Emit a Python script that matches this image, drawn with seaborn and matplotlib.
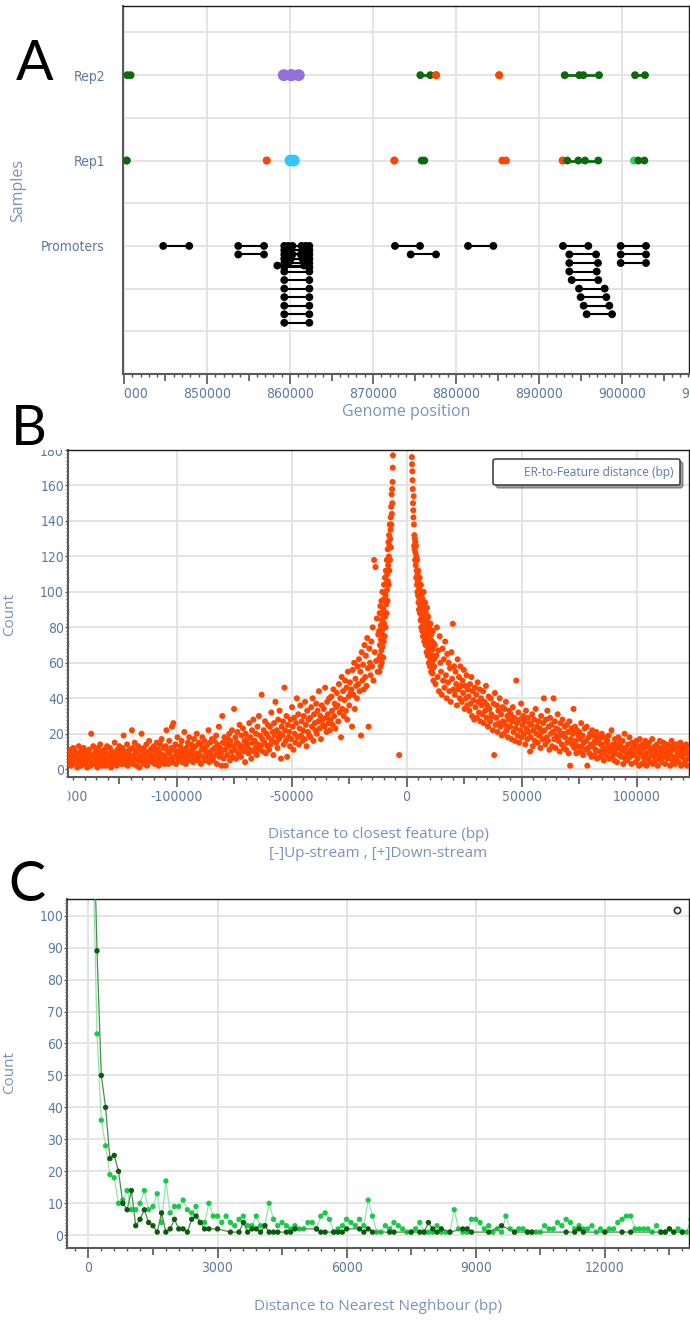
import numpy as np
import pandas as pd
import matplotlib
matplotlib.use("Agg")
import matplotlib.pyplot as plt
import seaborn as sns
from matplotlib import font_manager
from matplotlib.lines import Line2D
from matplotlib.ticker import MultipleLocator, FixedLocator, FuncFormatter
from matplotlib.transforms import Bbox, TransformedBbox

sns.set_theme(style="white")
TICK_FONT = ["Liberation Sans Narrow", "DejaVu Sans"]
TEXT_FONT = ["Open Sans", "DejaVu Sans"]
plt.rcParams["font.family"] = TICK_FONT
plt.rcParams["font.stretch"] = "condensed"

# use a narrow face for tick labels when one is installed
narrow_files = [f.fname for f in font_manager.fontManager.ttflist
                if ("Narrow" in f.fname or "Condensed" in f.fname)
                and not any(w in f.fname for w in ("Bold", "Italic", "Oblique", "Light"))]
narrow_files.sort(key=lambda p: (0 if "LiberationSansNarrow" in p else 1, p))
TICK_PROPS = dict(fname=narrow_files[0]) if narrow_files else dict(family=TICK_FONT)
TICK_SIZE = 10 if narrow_files else 9

TICK_COLOR = "#5b7aa3"
LABEL_COLOR = "#7893b8"
GRID_COLOR = "#e2e2e2"

# ---------------- panel A: genome browser tracks ----------------
track_names = ["Promoters", "Rep1", "Rep2"]
track_y = [0, 1, 2]

feature_colors = {"green": "#0b6a0b", "lime": "#33d166", "orange": "#ff4500",
                  "purple": "#9370db", "cyan": "#33c6ff", "black": "#000000"}

rep2_start = [840400, 859250, 860150, 875700, 877600, 885200, 893100, 894850, 901570]
rep2_end = [840800, 860150, 861060, 876900, 877600, 885200, 895340, 897230, 902770]
rep2_kind = ["green", "purple", "purple", "green", "orange", "orange", "green", "green", "green"]

rep1_start = [840330, 857200, 860060, 872570, 875870, 885580, 892850, 893410, 894730, 901450, 901970]
rep1_end = [840330, 857200, 860460, 872570, 876180, 886020, 892850, 895540, 897140, 901450, 902690]
rep1_kind = ["green", "orange", "cyan", "orange", "green", "orange", "orange", "green", "green", "lime", "green"]

prom_start = [844730, 853770, 853770,
              859310, 859800, 860300, 859310, 859600, 860100, 859310, 859800, 860300,
              859310, 859600, 860100, 859310, 859800, 858470, 859310,
              859310, 859310, 859310, 859310, 859310, 859310, 859310,
              872650, 874540, 881450,
              892890, 893650, 893650, 893650, 893940, 894820, 895020, 895380, 895740,
              899840, 899840, 899840]
prom_end = [847860, 856870, 856870,
            862330, 861900, 861400, 862330, 862100, 861600, 862330, 861800, 861300,
            862330, 862000, 861500, 862330, 861900, 861700, 862330,
            862330, 862330, 862330, 862330, 862330, 862330, 862330,
            875660, 877590, 884500,
            895940, 896870, 897100, 896950, 897140, 897910, 898110, 898470, 898800,
            902890, 902890, 902890]
prom_row = [0.0, 0.0, -0.1,
            0.0, 0.0, 0.0, -0.05, -0.05, -0.05, -0.1, -0.1, -0.1,
            -0.15, -0.15, -0.15, -0.2, -0.2, -0.23, -0.25,
            -0.3, -0.4, -0.5, -0.6, -0.7, -0.8, -0.9,
            0.0, -0.1, 0.0,
            0.0, -0.1, -0.2, -0.3, -0.4, -0.5, -0.6, -0.7, -0.8,
            0.0, -0.1, -0.2]

# ---------------- panel B: ER-to-feature distance histogram ----------------
b_left_tail = [  # from -147000 bp, every 300 bp
    6, 3, 9, 11, 2, 7, 5, 12, 4, 8,
    10, 3, 6, 1, 9, 13, 5, 7, 2, 11,
    4, 8, 12, 6, 3, 10, 7, 1, 9, 5,
    11, 6, 2, 20, 8, 4, 13, 7, 3, 10,
    5, 9, 1, 12, 7, 3, 14, 6, 10, 2,
    8, 4, 11, 6, 2, 9, 13, 5, 7, 3,
    12, 7, 1, 10, 5, 8, 3, 15, 6, 9,
    2, 11, 7, 4, 13, 6, 9, 3, 12, 5,
    19, 8, 3, 10, 6, 14, 2, 9, 5, 11,
    7, 4, 22, 12, 3, 8, 15, 6, 10, 2,
    9, 13, 5, 1, 11, 7, 20, 4, 8, 12,
    3, 10, 6, 14, 2, 9, 5, 16, 7, 11,
    8, 4, 12, 6, 13, 3, 10, 7, 15, 5,
    11, 2, 9, 14, 6, 17, 4, 8, 12, 3,
    7, 13, 22, 5, 10, 3, 16, 9, 6, 12,
    24, 4, 26, 11, 7, 14, 3, 9, 18, 6,
    10, 5, 13, 8, 16, 4, 11, 7, 21, 9,
    3, 12, 6, 15, 9, 18, 5, 10, 14, 7,
    11, 4, 17, 8, 13, 6, 20, 9, 5, 15,
    8, 14, 3, 11, 18, 7, 12, 16, 5, 10,
    13, 6, 9, 22, 4, 15, 10, 7, 17, 11,
    5, 16, 12, 8, 19, 3, 14, 10, 24, 7,
    12, 9, 2, 30, 15, 6, 18, 11, 2, 14,
    8, 17, 13, 20, 5, 16, 10, 22, 7, 13,
    34, 11, 18, 6, 15, 21, 9, 14, 25, 12,
    7, 19, 13, 23, 10, 16, 4, 20, 12, 17,
    14, 9, 26, 11, 18, 6, 22, 15, 28, 10,
    16, 12, 20, 8, 24, 14, 30, 11, 19, 13,
    42, 17, 10, 22, 15, 27, 9, 20, 13, 25,
    18, 11, 24, 14, 32, 16, 21, 8, 26, 19,
    38, 15, 22, 12, 28, 17, 33, 20, 6, 24,
    19, 27, 14, 46, 22, 16, 30, 7, 25, 18,
    21, 13, 28, 17, 35, 24, 11, 29, 20, 15,
    26, 40, 18, 31, 14, 23, 36, 19, 27, 16,
    22, 30, 17, 38, 25, 13, 33, 21, 28, 19,
    29, 18, 35, 24, 40, 16, 31, 26, 22, 37,
    20, 33, 27, 44, 23, 30, 17, 36, 28, 25,
    34, 24, 46, 29, 21, 38, 31, 26, 40, 22,
    28, 41, 33, 25, 45, 30, 37, 23, 35, 43,
    36, 27, 48, 32, 40, 18, 52, 34, 44, 30,
    39, 50, 33, 46, 28, 55, 41, 36, 49, 43,
    45, 24, 56, 42, 60, 34, 51, 47, 40, 58,
    48, 62, 44, 55, 19, 66, 50, 59, 45, 70,
    52, 64, 47, 74, 57, 24, 68, 60, 53, 72,
    58, 80, 50, 118, 66, 114, 61, 85, 55, 76,
]
b_left_core = [  # from -12000 bp, every 100 bp
    62, 78, 55, 88, 70, 64, 92, 58, 81, 73,
    67, 95, 60, 84, 76, 100, 69, 87, 79, 63,
    90, 72, 104, 82, 96, 75, 108, 86, 98, 80,
    112, 93, 105, 88, 118, 101, 110, 95, 124, 106,
    115, 128, 104, 120, 132, 112, 126, 138, 118, 130,
    135, 142, 125, 148, 138, 155, 144, 158, 150, 162,
    170, 177, 186,
]
b_right_core = [  # from +2000 bp, every 100 bp
    195, 188, 182, 176, 172, 168, 163, 158, 150, 146,
    142, 154, 138, 126, 132, 124, 130, 118, 128, 122,
    115, 126, 108, 120, 112, 104, 118, 100, 110, 106,
    98, 112, 94, 105, 90, 102, 96, 108, 88, 100,
    92, 84, 104, 95, 80, 98, 86, 91, 78, 96,
    88, 75, 93, 82, 100, 79, 87, 72, 90, 84,
    76, 94, 81, 70, 88, 74, 85, 66, 79, 91,
    72, 83, 64, 78, 86, 68, 75, 60, 80, 70,
    65, 77, 58, 73, 82, 62, 70, 55, 76, 67,
    60, 72, 54, 68, 78, 57, 64, 50, 71, 62,
]
b_right_tail = [  # from +12000 bp, every 300 bp
    58, 70, 48, 64, 80, 52, 67, 44, 75, 60,
    55, 42, 68, 50, 62, 46, 72, 53, 40, 65,
    49, 60, 44, 57, 38, 66, 51, 82, 45, 58,
    42, 55, 48, 36, 62, 45, 52, 40, 58, 47,
    38, 50, 43, 56, 34, 47, 40, 53, 36, 45,
    41, 33, 48, 37, 52, 30, 44, 39, 28, 46,
    35, 42, 29, 49, 38, 32, 45, 27, 40, 36,
    31, 44, 26, 38, 33, 47, 29, 36, 24, 41,
    34, 27, 40, 31, 30, 22, 37, 8, 43, 25,
    29, 36, 21, 33, 26, 40, 24, 31, 19, 35,
    27, 20, 34, 25, 38, 22, 30, 18, 28, 33,
    24, 31, 17, 27, 35, 21, 29, 16, 23, 50,
    26, 19, 32, 15, 28, 22, 37, 18, 25, 30,
    20, 27, 14, 33, 23, 17, 29, 21, 26, 10,
    18, 25, 31, 13, 22, 28, 16, 34, 20, 24,
    15, 27, 19, 23, 12, 30, 21, 17, 26, 40,
    22, 14, 28, 18, 33, 16, 24, 11, 29, 20,
    25, 13, 21, 40, 17, 27, 12, 23, 19, 31,
    16, 22, 10, 26, 19, 14, 28, 20, 12, 24,
    18, 11, 25, 15, 21, 9, 27, 2, 17, 23,
    14, 20, 34, 12, 24, 16, 9, 22, 13, 19,
    21, 10, 17, 26, 13, 19, 8, 15, 23, 11,
    16, 24, 2, 12, 18, 9, 20, 14, 7, 22,
    13, 19, 8, 16, 11, 21, 6, 15, 18, 10,
    17, 7, 14, 20, 9, 12, 5, 18, 11, 15,
    8, 16, 12, 19, 6, 13, 10, 22, 7, 14,
    11, 5, 17, 9, 14, 4, 12, 18, 8, 15,
    13, 7, 10, 16, 3, 12, 20, 6, 11, 9,
    5, 14, 9, 18, 7, 11, 3, 15, 10, 13,
    8, 12, 4, 16, 10, 6, 13, 2, 17, 9,
    11, 3, 14, 7, 12, 5, 16, 9, 2, 13,
    6, 15, 10, 4, 12, 8, 17, 3, 11, 7,
    13, 5, 9, 14, 2, 11, 6, 16, 8, 12,
    4, 10, 15, 7, 12, 3, 9, 14, 6, 11,
    8, 13, 2, 10, 16, 5, 12, 7, 14, 3,
    11, 6, 14, 9, 4, 12, 8, 15, 2, 10,
    7, 13, 3, 10, 5, 14, 9, 2, 12, 6,
    8,
]
b_lone_x = [-3200]
b_lone_y = [8]

# ---------------- panel C: nearest-neighbour distances ----------------
c_light_x = np.arange(100, 14100, 100)
c_light_y = [123, 63, 36, 28, 19, 18, 10, 11, 14, 8,
             8, 10, 14, 8, 9, 13, 4, 17, 7, 9,
             9, 11, 8, 7, 9, 4, 4, 10, 6, 6,
             4, 6, 4, 3, 5, 6, 3, 3, 6, 3,
             3, 10, 5, 3, 4, 3, 2, 3, 2, 2,
             4, 4, 2, 6, 7, 5, 1, 2, 3, 5,
             4, 3, 5, 3, 11, 6, 1, 1, 3, 2,
             4, 3, 2, 1, 1, 2, 4, 1, 1, 1,
             3, 1, 1, 1, 8, 2, 1, 1, 5, 5,
             4, 2, 3, 1, 2, 1, 6, 2, 1, 2,
             2, 1, 1, 1, 1, 3, 2, 2, 4, 3,
             5, 4, 2, 3, 2, 2, 3, 1, 2, 1,
             2, 2, 4, 5, 6, 6, 2, 2, 2, 2,
             1, 3, 1, 1, 2, 1, 2, 1, 1, 5]
c_dark_x = [100, 200, 300, 400, 500, 600, 700, 800, 900, 1000,
            1100, 1200, 1300, 1400, 1500, 1600, 1700, 1800, 1900, 2000,
            2100, 2200, 2300, 2400, 2500, 2600, 2700, 2800,
            3000, 3300, 3500, 3600, 3700, 3800, 3900, 4000, 4100, 4200, 4300, 4400,
            4600, 4700, 4800,
            5300, 5400, 5500, 5700, 5800, 5900, 6000,
            6300, 6400, 6500, 6600,
            7000, 7100, 7500, 7700, 7800, 7900, 8000, 8100, 8200, 8400,
            8700, 8800, 8900,
            9300, 9600, 9900,
            10200, 10300,
            11100, 11300, 11400, 11500,
            12000, 12400, 12600,
            13300, 13400, 13500, 13600, 13800]
c_dark_y = [143, 89, 50, 40, 24, 25, 20, 10, 8, 14,
            3, 5, 8, 4, 3, 1, 7, 1, 2, 5,
            2, 2, 1, 5, 6, 4, 2, 2,
            2, 1, 1, 4, 1, 2, 2, 1, 3, 1, 1, 1,
            1, 1, 2,
            2, 1, 1, 1, 1, 1, 2,
            2, 1, 2, 1,
            1, 1, 1, 1, 1, 4, 2, 1, 2, 1,
            2, 2, 1,
            1, 3, 1,
            1, 1,
            1, 1, 2, 1,
            1, 1, 1,
            1, 1, 2, 1, 1]


def every(step):
    return FuncFormatter(lambda v, pos: f"{v:.0f}" if abs(v % step) < 1e-6 else "")


def style_axes(ax):
    ax.set_axisbelow(True)
    for side in ["left", "bottom"]:
        ax.spines[side].set_color("#5a5a5a")
        ax.spines[side].set_linewidth(1.5)
    for side in ["top", "right"]:
        ax.spines[side].set_color("#1a1a1a")
        ax.spines[side].set_linewidth(1.0)
    ax.tick_params(axis="both", which="both", direction="out", colors="#555555",
                   labelcolor=TICK_COLOR, labelsize=TICK_SIZE, bottom=True, left=True,
                   top=False, right=False)
    ax.tick_params(axis="x", which="major", length=5, width=1.2, pad=4.5)
    ax.tick_params(axis="x", which="minor", length=2.5, width=1.0)


def finish_axes(ax, label_step, long_len):
    # labelled ticks get a longer mark and a vertical grid line
    ax.xaxis.get_majorticklabels()
    for tick in ax.xaxis.get_major_ticks():
        loc = tick.get_loc()
        if abs(loc % label_step) < 1e-6:
            tick.tick1line.set_markersize(long_len)
            ax.axvline(loc, color=GRID_COLOR, lw=1.3, zorder=0)
        tick.label1.set_fontproperties(font_manager.FontProperties(size=TICK_SIZE, **TICK_PROPS))
        tick.label1.set_clip_box(TransformedBbox(Bbox([[0, -1], [10, 1]]), ax.transAxes))
        tick.label1.set_clip_on(True)
    ax.yaxis.get_majorticklabels()
    for tick in ax.yaxis.get_major_ticks():
        tick.label1.set_fontproperties(font_manager.FontProperties(size=TICK_SIZE, **TICK_PROPS))
        tick.label1.set_clip_box(TransformedBbox(Bbox([[-1, -1], [1, 1]]), ax.transAxes))
        tick.label1.set_clip_on(True)


def edge_label(ax, value, pad_pts):
    # label of a tick that sits just past the plot edge, cut off like the others
    trans, va, ha = ax.get_xaxis_text1_transform(pad_pts)
    txt = ax.xaxis.get_major_formatter()(value)
    t = ax.text(value, 0, txt, transform=trans, va=va, ha=ha, color=TICK_COLOR,
                fontproperties=font_manager.FontProperties(size=TICK_SIZE, **TICK_PROPS))
    t.set_clip_path(None)
    t.set_clip_box(TransformedBbox(Bbox([[0, -1], [10, 1]]), ax.transAxes))
    t.set_clip_on(True)


fig = plt.figure(figsize=(6.9, 13.24), dpi=100)
fig.patch.set_facecolor("white")
ax_a = fig.add_axes([123 / 690, 1 - 374 / 1324, 566 / 690, 368 / 1324])
ax_b = fig.add_axes([68.2 / 690, 1 - 776.7 / 1324, 620.6 / 690, 326.7 / 1324])
ax_c = fig.add_axes([67.3 / 690, 1 - 1248.3 / 1324, 621.5 / 690, 349.3 / 1324])


# ---- A ----
def draw_track(ax, starts, ends, ys, kinds, lw, size, big=()):
    for s, e, y, k in zip(starts, ends, ys, kinds):
        if e > s:
            ax.plot([s, e], [y, y], color=feature_colors[k], lw=lw,
                    solid_capstyle="butt", zorder=2)
    rows = []
    for s, e, y, k in zip(starts, ends, ys, kinds):
        rows.append((s, y, k))
        rows.append((e, y, k))
    df = pd.DataFrame(rows, columns=["pos", "y", "kind"])
    small = df[~df["kind"].isin(big)]
    large = df[df["kind"].isin(big)]
    if len(small):
        sns.scatterplot(data=small, x="pos", y="y", hue="kind", palette=feature_colors,
                        s=size, linewidth=0, legend=False, ax=ax, zorder=3)
    if len(large):
        sns.scatterplot(data=large, x="pos", y="y", hue="kind", palette=feature_colors,
                        s=size * 2.3, linewidth=0, legend=False, ax=ax, zorder=3)


draw_track(ax_a, rep2_start, rep2_end, [track_y[2]] * len(rep2_start), rep2_kind,
           2.0, 32, big=("purple", "cyan"))
draw_track(ax_a, rep1_start, rep1_end, [track_y[1]] * len(rep1_start), rep1_kind,
           2.0, 32, big=("purple", "cyan"))
draw_track(ax_a, prom_start, prom_end, [track_y[0] + r for r in prom_row],
           ["black"] * len(prom_start), 1.5, 32)

style_axes(ax_a)
ax_a.set_xlim(839880, 908070)
ax_a.set_ylim(-1.5, 2.81)
ax_a.xaxis.set_major_locator(MultipleLocator(5000))
ax_a.xaxis.set_minor_locator(MultipleLocator(1000))
ax_a.xaxis.set_major_formatter(every(10000))
ax_a.set_yticks(track_y, labels=track_names)
ax_a.yaxis.set_minor_locator(FixedLocator([-1.0, -0.5, 0.5, 1.5, 2.5]))
ax_a.tick_params(axis="y", which="both", length=0, pad=13)
ax_a.grid(axis="y", which="both", color=GRID_COLOR, lw=1.3)
ax_a.set_xlabel("Genome position", fontsize=11.5, color=LABEL_COLOR,
                fontfamily=TEXT_FONT, fontstretch="normal")
ax_a.set_ylabel("Samples", fontsize=11.5, color=LABEL_COLOR,
                fontfamily=TEXT_FONT, fontstretch="normal")
ax_a.xaxis.set_label_coords(0.5, -0.082)
ax_a.yaxis.set_label_coords(-0.171, 0.5)
finish_axes(ax_a, 10000, 7.5)
edge_label(ax_a, 910000, 9.5)
ax_a.set_xlim(839880, 908070)

# ---- B ----
b_x = np.concatenate([
    np.arange(-147000, -147000 + 300 * len(b_left_tail), 300),
    np.arange(-12000, -12000 + 100 * len(b_left_core), 100),
    b_lone_x,
    np.arange(2000, 2000 + 100 * len(b_right_core), 100),
    np.arange(12000, 12000 + 300 * len(b_right_tail), 300),
])
b_y = b_left_tail + b_left_core + b_lone_y + b_right_core + b_right_tail
df_b = pd.DataFrame({"distance": b_x, "count": b_y})
sns.scatterplot(data=df_b, x="distance", y="count", color="#ff4500", s=19,
                linewidth=0, edgecolor="none", ax=ax_b, zorder=3)

style_axes(ax_b)
ax_b.set_xlim(-147100, 122700)
ax_b.set_ylim(-4.2, 180)
ax_b.xaxis.set_major_locator(MultipleLocator(25000))
ax_b.xaxis.set_minor_locator(MultipleLocator(5000))
ax_b.xaxis.set_major_formatter(every(50000))
ax_b.yaxis.set_major_locator(MultipleLocator(20))
ax_b.yaxis.set_minor_locator(MultipleLocator(2))
ax_b.tick_params(axis="y", which="major", length=2.2, width=1.0, pad=0.8)
ax_b.tick_params(axis="y", which="minor", length=1.4, width=0.8)
ax_b.grid(axis="y", which="major", color=GRID_COLOR, lw=1.3)
ax_b.set_xlabel("Distance to closest feature (bp)\n[-]Up-stream , [+]Down-stream",
                fontsize=11, color=LABEL_COLOR, fontfamily=TEXT_FONT,
                fontstretch="normal", linespacing=1.3)
ax_b.set_ylabel("Count", fontsize=11, color=LABEL_COLOR, fontfamily=TEXT_FONT,
                fontstretch="normal")
ax_b.xaxis.set_label_coords(0.5, -0.155)
ax_b.yaxis.set_label_coords(-0.082, 0.498)
leg = ax_b.legend([Line2D([], [], ls="none")], ["ER-to-Feature distance (bp)"],
                  loc="upper right", bbox_to_anchor=(0.9858, 0.9725), borderaxespad=0,
                  frameon=True, fancybox=True, shadow=True, handlelength=1.6,
                  handletextpad=0.4, borderpad=0.55,
                  prop={"family": TEXT_FONT, "size": 8.6, "stretch": "normal"},
                  labelcolor=TICK_COLOR)
leg.get_frame().set_edgecolor("#444444")
leg.get_frame().set_linewidth(1.2)
finish_axes(ax_b, 50000, 7.5)
edge_label(ax_b, -150000, 9.5)
ax_b.set_xlim(-147100, 122700)

# ---- C ----
sns.lineplot(x=c_light_x, y=c_light_y, color="#95e3ab", lw=0.9, estimator=None,
             legend=False, ax=ax_c, zorder=2)
sns.scatterplot(x=c_light_x, y=c_light_y, color="#19c94a", s=15, linewidth=0,
                edgecolor="none", legend=False, ax=ax_c, zorder=3)
sns.lineplot(x=c_dark_x, y=c_dark_y, color="#4d8a4d", lw=0.9, estimator=None,
             legend=False, ax=ax_c, zorder=4)
sns.scatterplot(x=c_dark_x, y=c_dark_y, color="#0a5c0a", s=15, linewidth=0,
                edgecolor="none", legend=False, ax=ax_c, zorder=5)

style_axes(ax_c)
ax_c.set_xlim(-490, 13950)
ax_c.set_ylim(-4.07, 105.2)
ax_c.xaxis.set_major_locator(MultipleLocator(1500))
ax_c.xaxis.set_minor_locator(MultipleLocator(300))
ax_c.xaxis.set_major_formatter(every(3000))
ax_c.yaxis.set_major_locator(MultipleLocator(10))
ax_c.yaxis.set_minor_locator(MultipleLocator(1))
ax_c.tick_params(axis="y", which="major", length=2.2, width=1.0, pad=0.8)
ax_c.tick_params(axis="y", which="minor", length=1.4, width=0.8)
ax_c.grid(axis="y", which="major", color=GRID_COLOR, lw=1.3)
ax_c.set_xlabel("Distance to Nearest Neghbour (bp)", fontsize=11, color=LABEL_COLOR,
                fontfamily=TEXT_FONT, fontstretch="normal")
ax_c.set_ylabel("Count", fontsize=11, color=LABEL_COLOR, fontfamily=TEXT_FONT,
                fontstretch="normal")
ax_c.xaxis.set_label_coords(0.5, -0.145)
ax_c.yaxis.set_label_coords(-0.081, 0.502)
ax_c.legend([Line2D([], [], ls="none", marker="o", mfc="white", mec="#333333",
                    mew=1.2, ms=4.5)], [""], loc="center", bbox_to_anchor=(0.981, 0.9656),
            frameon=False, handlelength=1, handletextpad=0, borderpad=0)
finish_axes(ax_c, 3000, 7.5)
ax_c.set_xlim(-490, 13950)

# panel letters
letter_font = ["Lato", "DejaVu Sans"]
for letter, x_px, base_px in [("A", 35, 80), ("B", 29, 445), ("C", 27, 901)]:
    fig.text(x_px / 690, 1 - base_px / 1324, letter, fontsize=40, fontfamily=letter_font,
             fontstretch="normal", ha="center", va="baseline", color="black")

fig.savefig("out.png", dpi=100)
